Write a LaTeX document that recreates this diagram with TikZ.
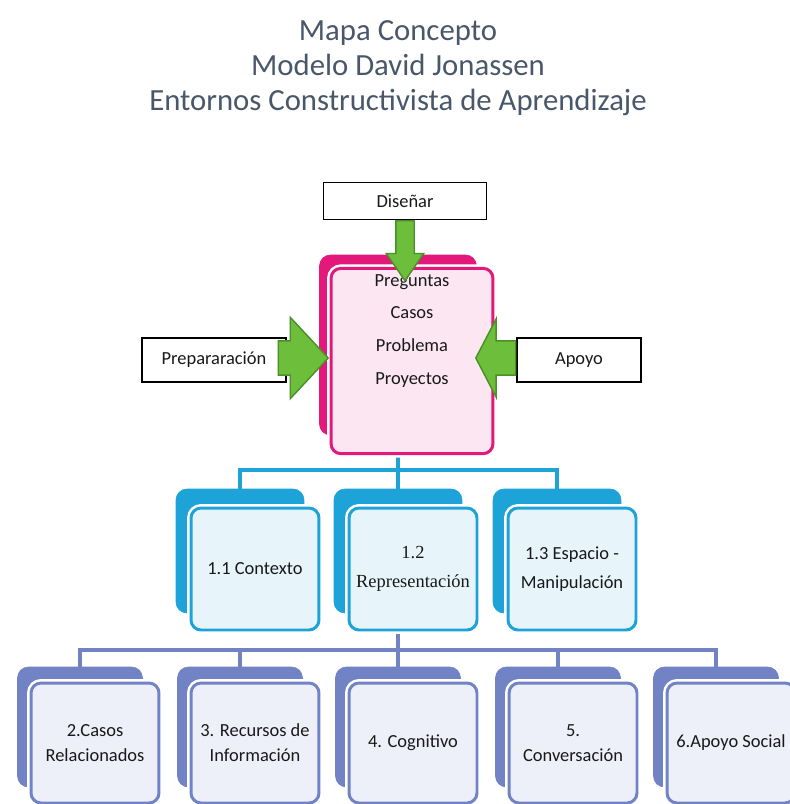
\documentclass[tikz,border=0pt]{standalone}
\usepackage{fontspec}
\setmainfont{Carlito}
\newfontfamily\serifrep{Liberation Serif}
\usetikzlibrary{arrows.meta,positioning,calc,shapes.arrows,backgrounds}
\definecolor{titulo}{HTML}{485769}
\definecolor{rosa}{HTML}{E2187A}
\definecolor{rosaclaro}{HTML}{FCE6F1}
\definecolor{cian}{HTML}{1DA3D8}
\definecolor{cianclaro}{HTML}{E7F5FB}
\definecolor{lila}{HTML}{7183C5}
\definecolor{lilaclaro}{HTML}{EEF0F9}
\definecolor{verde}{HTML}{6DBE3B}
\definecolor{verdeosc}{HTML}{4A8F28}

\begin{document}
\begin{tikzpicture}[x=0.02cm, y=-0.02cm,
  titulo/.style={font=\fontsize{17.5}{19.8}\selectfont, text=titulo, align=center},
  caja/.style={draw=black, fill=white, line width=0.6pt, inner sep=0pt,
    font=\fontsize{10.5}{12}\selectfont, text=black!90},
  atras/.style={fill=#1, draw=#1, rounded corners=0.22cm},
  frente/.style 2 args={fill=#2, draw=#1, line width=1.7pt, rounded corners=0.2cm,
    preaction={draw=white, line width=4.5pt}, align=center, text=black!90,
    font=\fontsize{10.5}{14.2}\selectfont},
  flecha/.style={single arrow, draw=verdeosc, fill=verde, line width=0.8pt, inner xsep=0pt},
  linea/.style={draw=#1, line width=2.3pt}]
  \useasboundingbox (0,0) rectangle (790,804);

  \node[titulo] (tit) at (398,68) {Mapa Concepto\\Modelo David Jonassen\\Entornos Constructivista de Aprendizaje};

  % centro
  \node[atras=rosa, minimum width=3.14cm, minimum height=3.6cm] (bpink) at (398,345) {};
  \node[frente={rosa}{rosaclaro}, minimum width=3.24cm, minimum height=3.64cm,
    font=\fontsize{10.5}{18.7}\selectfont, text depth=36pt] (pink) at (412,361)
    {Preguntas\\Casos\\Problema\\Proyectos};

  \node[caja, minimum width=3.26cm, minimum height=0.74cm] (dis) at (405,201) {Diseñar};
  \node[caja, minimum width=2.88cm, minimum height=0.88cm] (prep) at (214,360) {Prepararación};
  \node[caja, minimum width=2.48cm, minimum height=0.88cm] (apoyo) at (579,360) {Apoyo};

  \node[flecha, rotate=-90, anchor=tail, minimum height=1.2cm, minimum width=0.72cm,
    inner ysep=0.17cm, single arrow head extend=0.19cm, single arrow tip angle=69] (fdis) at (dis.south) {};
  \node[flecha, anchor=tail, minimum height=1.0cm, minimum width=1.6cm,
    inner ysep=0.33cm, single arrow head extend=0.47cm, single arrow tip angle=94] (fprep) at ($(prep.east)+(-9,-2)$) {};
  \node[flecha, rotate=180, anchor=tail, minimum height=0.8cm, minimum width=1.54cm,
    inner ysep=0.33cm, single arrow head extend=0.44cm, single arrow tip angle=125] (fapoyo) at ($(apoyo.west)+(0,-2)$) {};

  % nivel 1
  \node[atras=cian, minimum width=2.56cm, minimum height=2.48cm] (bctx) at (240,551) {};
  \node[frente={cian}{cianclaro}, minimum width=2.56cm, minimum height=2.44cm] (ctx) at ($(bctx)+(15,18)$) {1.1 Contexto};
  \node[atras=cian, minimum width=2.56cm, minimum height=2.48cm] (brep) at (398,551) {};
  \node[frente={cian}{cianclaro}, minimum width=2.56cm, minimum height=2.44cm,
    font=\serifrep\fontsize{10.5}{16.4}\selectfont] (rep) at ($(brep)+(15,18)$) {1.2\\Representación};
  \node[atras=cian, minimum width=2.56cm, minimum height=2.48cm] (besp) at (557,551) {};
  \node[frente={cian}{cianclaro}, minimum width=2.56cm, minimum height=2.44cm,
    font=\fontsize{10.5}{16.4}\selectfont] (esp) at ($(besp)+(15,18)$) {1.3 Espacio -\\Manipulación};

  % nivel 2
  \foreach \x/\nom/\txt in {80/cas/{2.Casos\\Relacionados}, 240/rec/{3. Recursos de\\Información},
      398/cog/{4. Cognitivo}, 558/con/{5.\\Conversación}, 716/soc/{6.Apoyo Social}} {
    \node[atras=lila, minimum width=2.5cm, minimum height=2.4cm] (b\nom) at (\x,727) {};
    \node[frente={lila}{lilaclaro}, minimum width=2.56cm, minimum height=2.4cm] (\nom) at ($(b\nom)+(15,16)$) {\txt};
  }

  \coordinate (uno) at (398,470);
  \coordinate (dos) at (398,650);
  \begin{scope}[on background layer]
    \draw[linea=cian] (bpink.south) -- (brep.north);
    \draw[linea=cian] (bctx.north) |- (uno) -| (besp.north);
    \draw[linea=lila] (brep.south) -- (bcog.north);
    \draw[linea=lila] (bcas.north) |- (dos) -| (bsoc.north);
    \foreach \nom in {rec,con}
      \draw[linea=lila] (b\nom.north) -- (b\nom.north |- dos);
  \end{scope}
\end{tikzpicture}
\end{document}
